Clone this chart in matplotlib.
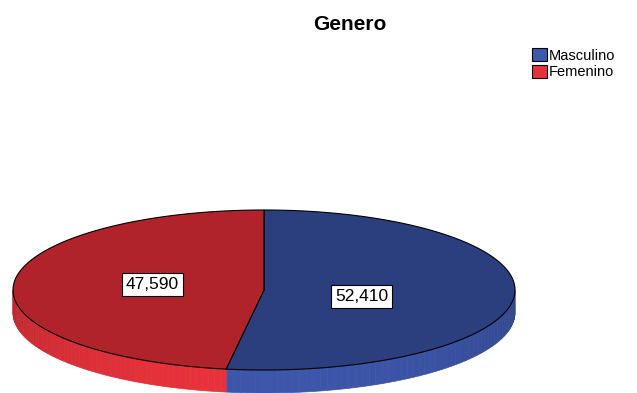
import numpy as np
import matplotlib
matplotlib.use("Agg")
import matplotlib.pyplot as plt
from matplotlib.patches import Polygon, Patch
from matplotlib.colors import to_rgb

# Datos
categorias = ["Masculino", "Femenino"]
porcentajes = [52.410, 47.590]
color_tapa = ["#2b3f7f", "#b1232a"]
color_lado = ["#3d56aa", "#e9323b"]
color_leyenda = ["#3d58ad", "#e8323a"]

plt.rcParams["font.family"] = ["Liberation Sans", "DejaVu Sans"]

fig = plt.figure(figsize=(6.37, 3.93), dpi=100)
ax = fig.add_axes([0, 0, 1, 1])
ax.set_xlim(0, 637)
ax.set_ylim(393, 0)
ax.axis("off")

# geometria del pastel 3D (en pixeles)
cx, cy, a, b, prof = 264, 290, 251, 80, 23


def punto(t):
    return cx + a * np.cos(t), cy - b * np.sin(t)


total = sum(porcentajes)
bordes = 90 - 360 * np.cumsum([0] + porcentajes) / total  # grados, sentido horario

# lado del cilindro (solo la mitad frontal se ve)
for i in range(len(porcentajes)):
    hi = min(bordes[i], 0)
    lo = max(bordes[i + 1], -180)
    if lo >= hi:
        continue
    ts = np.radians(np.linspace(hi, lo, 60))
    base = np.array(to_rgb(color_lado[i]))
    for t0, t1 in zip(ts[:-1], ts[1:]):
        tm = 0.5 * (t0 + t1)
        f = 0.80 + 0.20 * (-np.sin(tm))
        x0, y0 = punto(t0)
        x1, y1 = punto(t1)
        poly = Polygon([(x0, y0), (x1, y1), (x1, y1 + prof), (x0, y0 + prof)],
                       closed=True, facecolor=base * f, edgecolor=base * f, lw=0.5)
        ax.add_patch(poly)

# tapa superior
for i in range(len(porcentajes)):
    ts = np.radians(np.linspace(bordes[i], bordes[i + 1], 200))
    xs, ys = punto(ts)
    pts = [(cx, cy)] + list(zip(xs, ys))
    ax.add_patch(Polygon(pts, closed=True, facecolor=color_tapa[i],
                         edgecolor="black", lw=0.8, joinstyle="miter"))

# etiquetas
for i, v in enumerate(porcentajes):
    tm = np.radians(0.5 * (bordes[i] + bordes[i + 1]))
    r = 0.39 if i == 0 else 0.445
    x = cx + r * a * np.cos(tm)
    y = cy - r * b * np.sin(tm) + (4 if i == 0 else -3)
    ax.text(x, y, f"{v:.3f}".replace(".", ","), fontsize=12.5, ha="center", va="center",
            bbox=dict(boxstyle="square,pad=0.22", facecolor="white", edgecolor="black", lw=0.8))

fig.text(350 / 637, 1 - 25 / 393, "Genero", fontsize=15, fontweight="bold",
         ha="center", va="center")

handles = [Patch(facecolor=c, edgecolor="black", lw=0.8) for c in color_leyenda]
ax.legend(handles, categorias, loc="upper left", bbox_to_anchor=(532 / 637, 1 - 48 / 393),
          fontsize=10.5, frameon=False, handlelength=1.0, handleheight=1.0,
          handletextpad=0.15, labelspacing=0.15, borderpad=0, borderaxespad=0)

fig.savefig("out.png", dpi=100)
